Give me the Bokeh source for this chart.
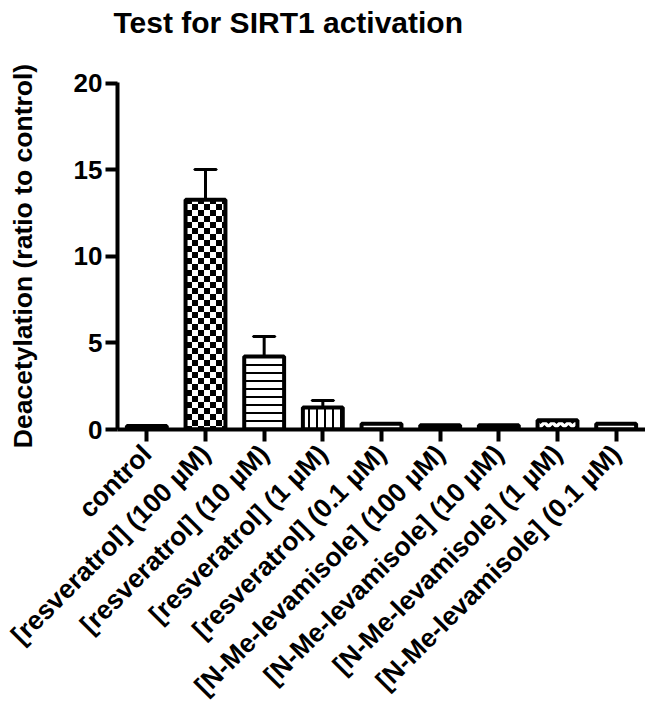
import base64
from bokeh.plotting import figure
from bokeh.models import ColumnDataSource, ImageURLTexture, FixedTicker, Range1d, FactorRange
from bokeh.embed import file_html
from bokeh.resources import INLINE

categories = ["control", "[resveratrol] (100 µM)", "[resveratrol] (10 µM)",
              "[resveratrol] (1 µM)", "[resveratrol] (0.1 µM)",
              "[N-Me-levamisole] (100 µM)", "[N-Me-levamisole] (10 µM)",
              "[N-Me-levamisole] (1 µM)", "[N-Me-levamisole] (0.1 µM)"]
values = [0.2, 13.28, 4.22, 1.27, 0.33, 0.25, 0.25, 0.53, 0.33]
upper = [0.2, 15.02, 5.38, 1.67, 0.33, 0.25, 0.25, 0.53, 0.33]
patterns = [" ", "checker", "horizontal_line", "vertical_line", "horizontal_dash",
            " ", " ", "horizontal_wave", "horizontal_dash"]
fills = ["black", "white", "white", "white", "white", "black", "black", "white", "white"]
y_ticks = [0, 5, 10, 15, 20]

FONT = "Liberation Sans"

svg = ('<svg xmlns="http://www.w3.org/2000/svg" width="12" height="12">'
       '<rect width="12" height="12" fill="white"/>'
       '<rect width="6" height="6" fill="black"/>'
       '<rect x="6" y="6" width="6" height="6" fill="black"/></svg>')
checker_url = "data:image/svg+xml;base64," + base64.b64encode(svg.encode()).decode()

p = figure(width=645, height=716, x_range=FactorRange(*categories, range_padding=0),
           y_range=Range1d(0, 20.05), output_backend="svg", toolbar_location=None,
           min_border_left=117, min_border_right=0, min_border_top=79, min_border_bottom=287)

# trailing newline reserves the empty space between the title and the plot
p.title.text = "Test for SIRT1 activation\n"
p.title.text_font = FONT
p.title.text_font_size = "30px"
p.title.text_font_style = "bold"
p.title.text_color = "black"
p.title.text_line_height = 1.1
p.title.align = "left"
p.title.vertical_align = "top"
p.title.offset = -4
p.title.standoff = 11

src = ColumnDataSource(dict(cat=categories, val=values, pat=patterns, fill=fills))
p.vbar(x="cat", top="val", width=0.68, source=src, fill_color="fill",
       line_color="black", line_width=4, hatch_pattern="pat", hatch_color="black",
       hatch_scale=8, hatch_weight=2,
       hatch_extra={"checker": ImageURLTexture(url=checker_url, repetition="repeat")})

err_cats = [c for c, v, u in zip(categories, values, upper) if u > v]
err_lo = [v for v, u in zip(values, upper) if u > v]
err_hi = [u for v, u in zip(values, upper) if u > v]
esrc = ColumnDataSource(dict(cat=err_cats, lo=err_lo, hi=err_hi))
p.segment(x0="cat", y0="lo", x1="cat", y1="hi", source=esrc, line_color="black", line_width=3)
p.rect(x="cat", y="hi", width=0.37, height=0.0001, source=esrc, line_color="black",
       line_width=3, fill_color=None)

p.xgrid.grid_line_color = None
p.ygrid.grid_line_color = None
p.outline_line_color = None

for ax in (p.xaxis[0], p.yaxis[0]):
    ax.axis_line_width = 4
    ax.axis_line_color = "black"
    ax.major_tick_line_width = 4
    ax.major_tick_line_color = "black"
    ax.major_tick_out = 12
    ax.major_tick_in = 0
    ax.minor_tick_out = 0
    ax.minor_tick_in = 0
    ax.major_label_text_font = FONT
    ax.major_label_text_font_style = "bold"
    ax.major_label_text_color = "black"

p.yaxis.ticker = FixedTicker(ticks=y_ticks)
p.yaxis.major_label_text_font_size = "26px"
p.yaxis.major_label_standoff = 3
p.yaxis.axis_label = "Deacetylation (ratio to control)"
p.yaxis.axis_label_text_font = FONT
p.yaxis.axis_label_text_font_size = "26.5px"
p.yaxis.axis_label_text_font_style = "bold"
p.yaxis.axis_label_text_color = "black"
p.yaxis.axis_label_standoff = 33

p.xaxis.major_label_orientation = 0.785398
p.xaxis.major_label_text_font_size = "26.5px"
p.xaxis.major_label_standoff = 8

open("out.html", "w").write(file_html(p, INLINE))
